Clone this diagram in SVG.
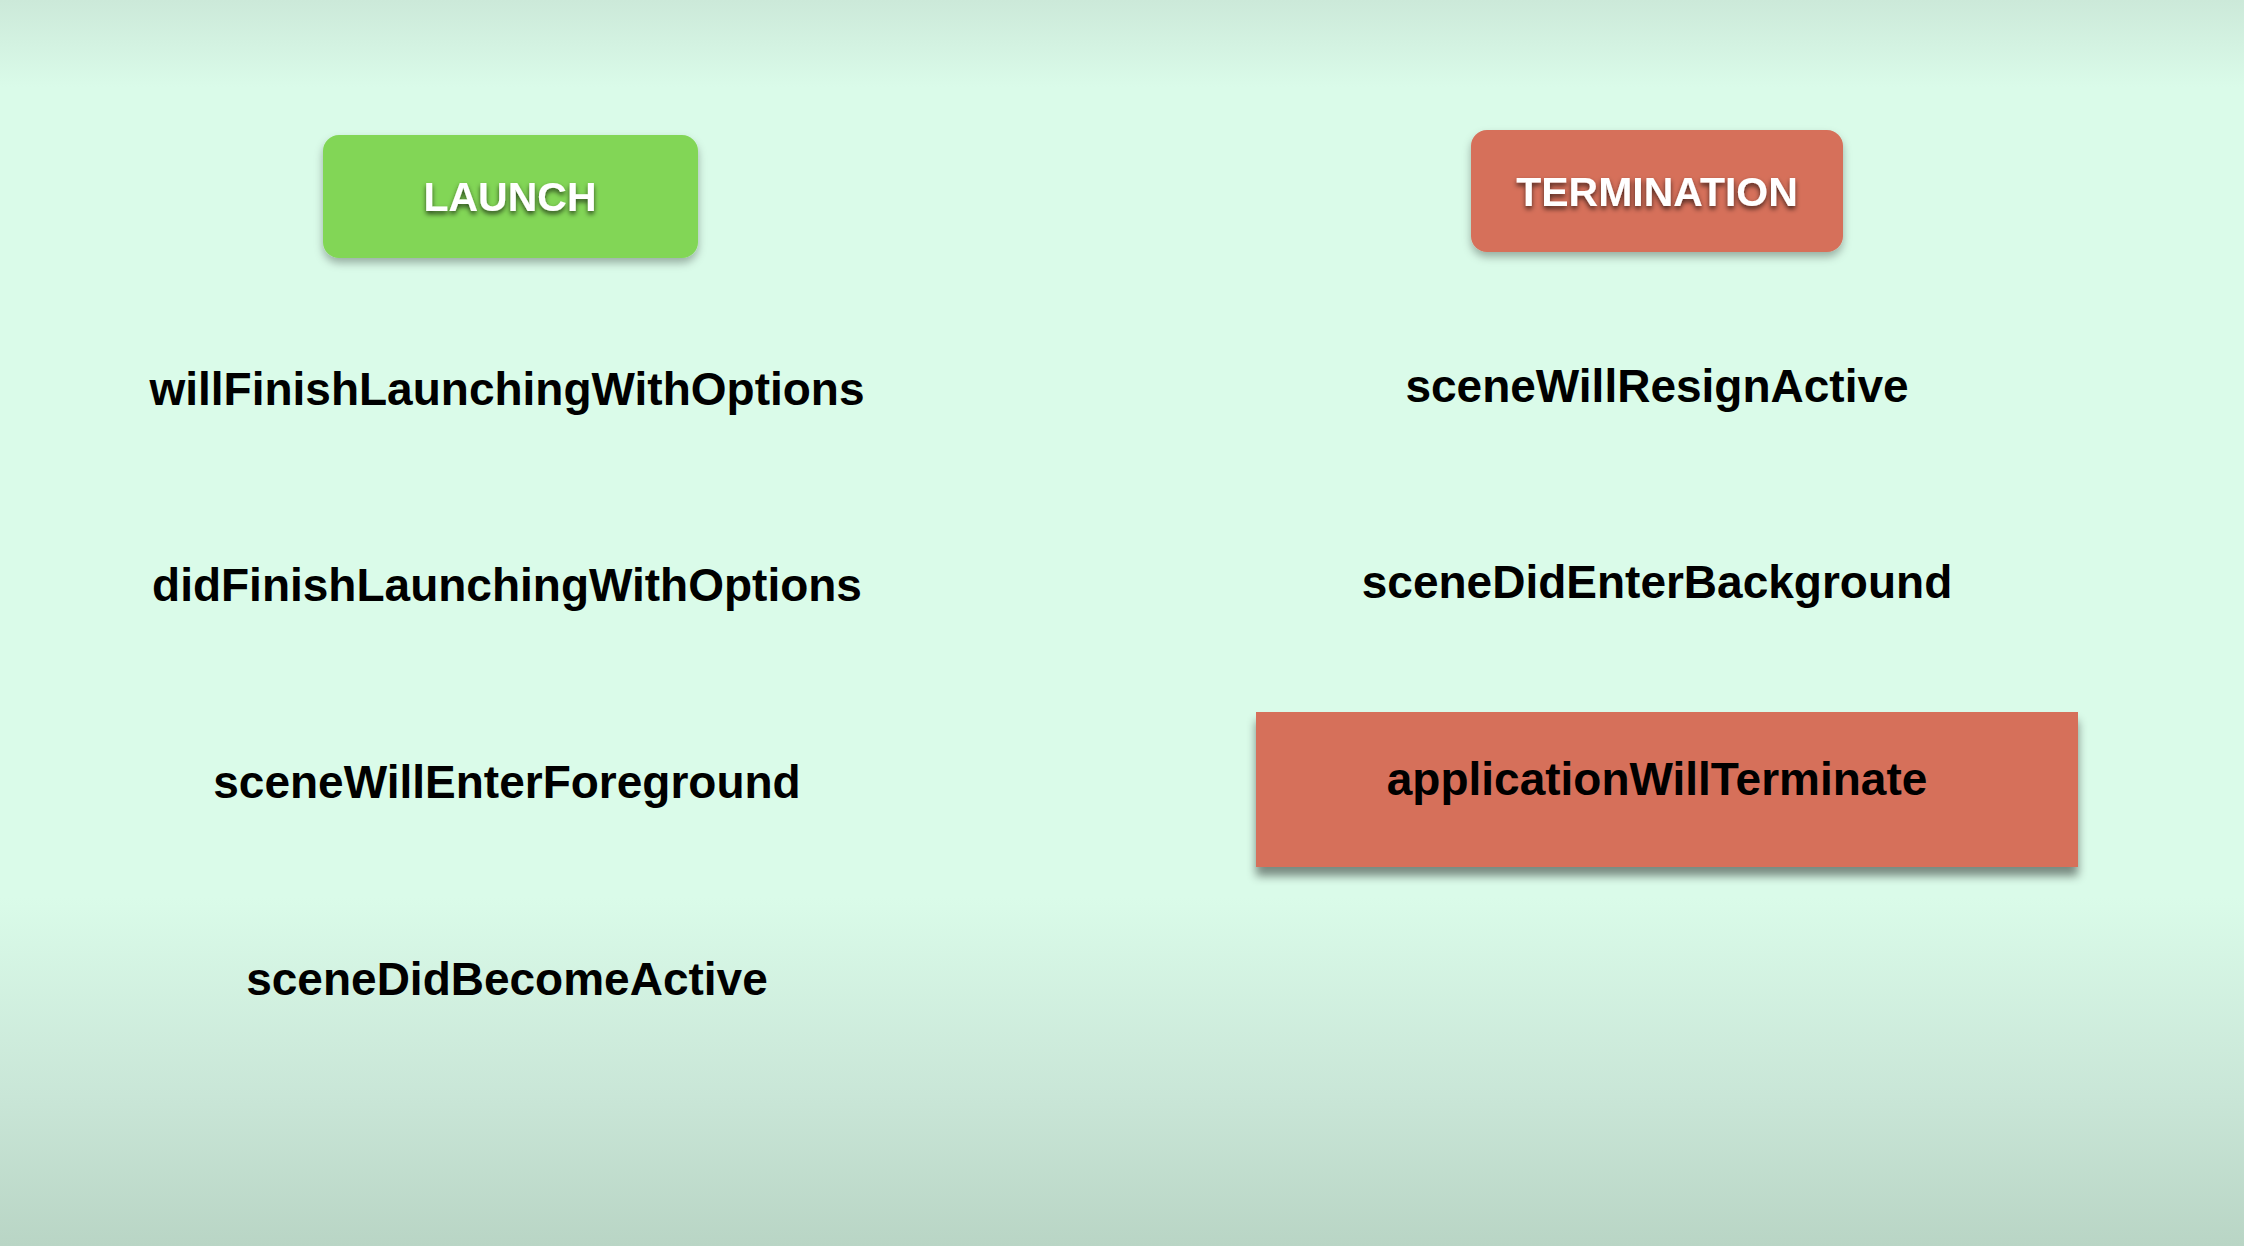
<svg xmlns="http://www.w3.org/2000/svg" width="2244" height="1246" viewBox="0 0 2244 1246">
  <defs>
    <linearGradient id="bg" x1="0" y1="0" x2="0" y2="1">
      <stop offset="0" stop-color="#cce9d9"/>
      <stop offset="0.07" stop-color="#dafbe9"/>
      <stop offset="0.72" stop-color="#dafbe9"/>
      <stop offset="0.88" stop-color="#c9e6d7"/>
      <stop offset="1" stop-color="#b9d5c5"/>
    </linearGradient>
    <filter id="boxShadow" x="-10%" y="-20%" width="120%" height="150%">
      <feDropShadow dx="0" dy="5" stdDeviation="4" flood-color="#000" flood-opacity="0.3"/>
    </filter>
    <filter id="bigShadow" x="-5%" y="-10%" width="110%" height="130%">
      <feDropShadow dx="0" dy="9" stdDeviation="5" flood-color="#000" flood-opacity="0.45"/>
    </filter>
    <filter id="textShadow" x="-10%" y="-30%" width="120%" height="170%">
      <feDropShadow dx="0" dy="3" stdDeviation="2.5" flood-color="#000" flood-opacity="0.65"/>
    </filter>
  </defs>
  <style>
    .lbl { font-family: "Liberation Sans", Arial, Helvetica, sans-serif; font-weight: bold; font-size: 46px; fill: #000; text-anchor: middle; }
    .hdr { font-family: "Liberation Sans", Arial, Helvetica, sans-serif; font-weight: bold; font-size: 41px; fill: #fff; text-anchor: middle; filter: url(#textShadow); }
    .green { fill: #82d657; }
    .red { fill: #d6705a; }
  </style>
  <rect x="0" y="0" width="2244" height="1246" fill="url(#bg)"/>

  <g id="launch">
    <rect class="green" x="323" y="135" width="375" height="123" rx="16" ry="16" filter="url(#boxShadow)"/>
    <text class="hdr" x="510" y="211">LAUNCH</text>
  </g>
  <g id="termination">
    <rect class="red" x="1471" y="130" width="372" height="122" rx="16" ry="16" filter="url(#boxShadow)"/>
    <text class="hdr" x="1657" y="206">TERMINATION</text>
  </g>

  <g id="willFinishLaunchingWithOptions">
    <text class="lbl" x="507" y="405">willFinishLaunchingWithOptions</text>
  </g>
  <g id="didFinishLaunchingWithOptions">
    <text class="lbl" x="507" y="601">didFinishLaunchingWithOptions</text>
  </g>
  <g id="sceneWillEnterForeground">
    <text class="lbl" x="507" y="798">sceneWillEnterForeground</text>
  </g>
  <g id="sceneDidBecomeActive">
    <text class="lbl" x="507" y="995">sceneDidBecomeActive</text>
  </g>

  <g id="sceneWillResignActive">
    <text class="lbl" x="1657" y="402">sceneWillResignActive</text>
  </g>
  <g id="sceneDidEnterBackground">
    <text class="lbl" x="1657" y="598">sceneDidEnterBackground</text>
  </g>
  <g id="applicationWillTerminate">
    <rect class="red" x="1256" y="712" width="822" height="155" filter="url(#bigShadow)"/>
    <text class="lbl" x="1657" y="795">applicationWillTerminate</text>
  </g>

  <g id="connectors"/>
</svg>
